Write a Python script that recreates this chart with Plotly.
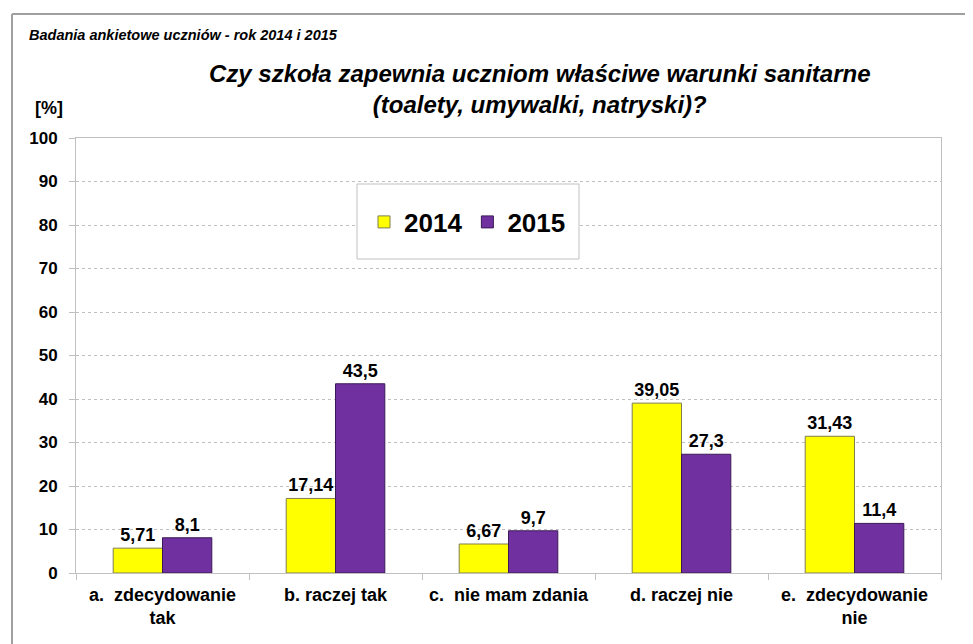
import plotly.graph_objects as go

categories = ["a.\u00a0 zdecydowanie<br>tak", "b. raczej tak", "c.\u00a0 nie mam zdania",
              "d. raczej nie", "e.\u00a0 zdecydowanie<br>nie"]
series_names = ["2014", "2015"]
values_2014 = [5.71, 17.14, 6.67, 39.05, 31.43]
values_2015 = [8.1, 43.5, 9.7, 27.3, 11.4]
y_ticks = [0, 10, 20, 30, 40, 50, 60, 70, 80, 90, 100]

# page body has an 8px default margin; the figure is sized to fit the window
OFF = 8
W, H = 973, 644
L, R, T, B = 76, 941, 138, 573
FONT = "Liberation Sans, Arial, sans-serif"


def px(x):
    return (x - L) / (R - L)


def py(y):
    return (B - y) / (B - T)


def lab(v):
    return str(v).replace(".", ",")


fig = go.Figure()
fig.add_trace(go.Bar(
    x=categories, y=values_2014, name=series_names[0],
    marker=dict(color="#FFFF00", line=dict(color="#7f7f50", width=1)),
    text=[lab(v) for v in values_2014], textposition="outside",
    textfont=dict(family=FONT, size=18, color="black", weight="bold"),
    cliponaxis=False,
))
fig.add_trace(go.Bar(
    x=categories, y=values_2015, name=series_names[1],
    marker=dict(color="#7030A0", line=dict(color="#3a1a55", width=1)),
    text=[lab(v) for v in values_2015], textposition="outside",
    textfont=dict(family=FONT, size=18, color="black", weight="bold"),
    cliponaxis=False,
))

shapes = [
    # outer frame
    dict(type="line", xref="paper", yref="paper", x0=px(12), x1=px(975), y0=py(14), y1=py(14),
         line=dict(color="#a0a0a0", width=2)),
    dict(type="line", xref="paper", yref="paper", x0=px(12), x1=px(12), y0=py(14), y1=py(646),
         line=dict(color="#a0a0a0", width=2)),
    # legend box
    dict(type="rect", xref="paper", yref="paper", x0=px(357), x1=px(579), y0=py(184), y1=py(259),
         fillcolor="white", line=dict(color="#c0c0c0", width=1), layer="above"),
]

annotations = [
    dict(text="Badania ankietowe uczniów - rok 2014 i 2015", xref="paper", yref="paper",
         x=px(27), y=py(35), xanchor="left", yanchor="middle", showarrow=False,
         font=dict(family=FONT, size=14.5, color="black", weight="bold", style="italic")),
    dict(text="Czy szkoła zapewnia uczniom właściwe warunki sanitarne<br>(toalety, umywalki, natryski)?",
         xref="paper", yref="paper", x=px(540), y=py(89), xanchor="center", yanchor="middle",
         showarrow=False, align="center",
         font=dict(family=FONT, size=24, color="black", weight="bold", style="italic")),
    dict(text="[%]", xref="paper", yref="paper", x=px(49), y=py(108), xanchor="center",
         yanchor="middle", showarrow=False,
         font=dict(family=FONT, size=18, color="black", weight="bold")),
]

fig.update_layout(
    width=W - OFF, height=H - OFF,
    margin=dict(l=L - OFF, r=W - R, t=T - OFF, b=H - B),
    paper_bgcolor="white", plot_bgcolor="white",
    barmode="group", bargap=0.43, bargroupgap=0,
    showlegend=True,
    legend=dict(orientation="h", x=px(364), y=py(222), xanchor="left", yanchor="middle",
                bgcolor="rgba(0,0,0,0)", borderwidth=0,
                font=dict(family=FONT, size=26, color="black", weight="bold")),
    shapes=shapes, annotations=annotations,
    xaxis=dict(type="category", showline=True, linecolor="#c0c0c0", linewidth=1, mirror=True,
               ticks="outside", tickson="boundaries", ticklen=6, tickcolor="#c0c0c0",
               showgrid=False, ticklabelstandoff=5,
               tickfont=dict(family=FONT, size=18, color="black", weight="bold")),
    yaxis=dict(range=[0, 100], tickvals=y_ticks, showline=True, linecolor="#c0c0c0", linewidth=1,
               mirror=True, ticks="outside", ticklen=6, tickcolor="#c0c0c0",
               showgrid=True, gridcolor="#c0c0c0", griddash="dot", gridwidth=1,
               zeroline=False, ticklabelstandoff=8,
               tickfont=dict(family=FONT, size=17, color="black", weight="bold")),
)

fig.write_html("out.html")
